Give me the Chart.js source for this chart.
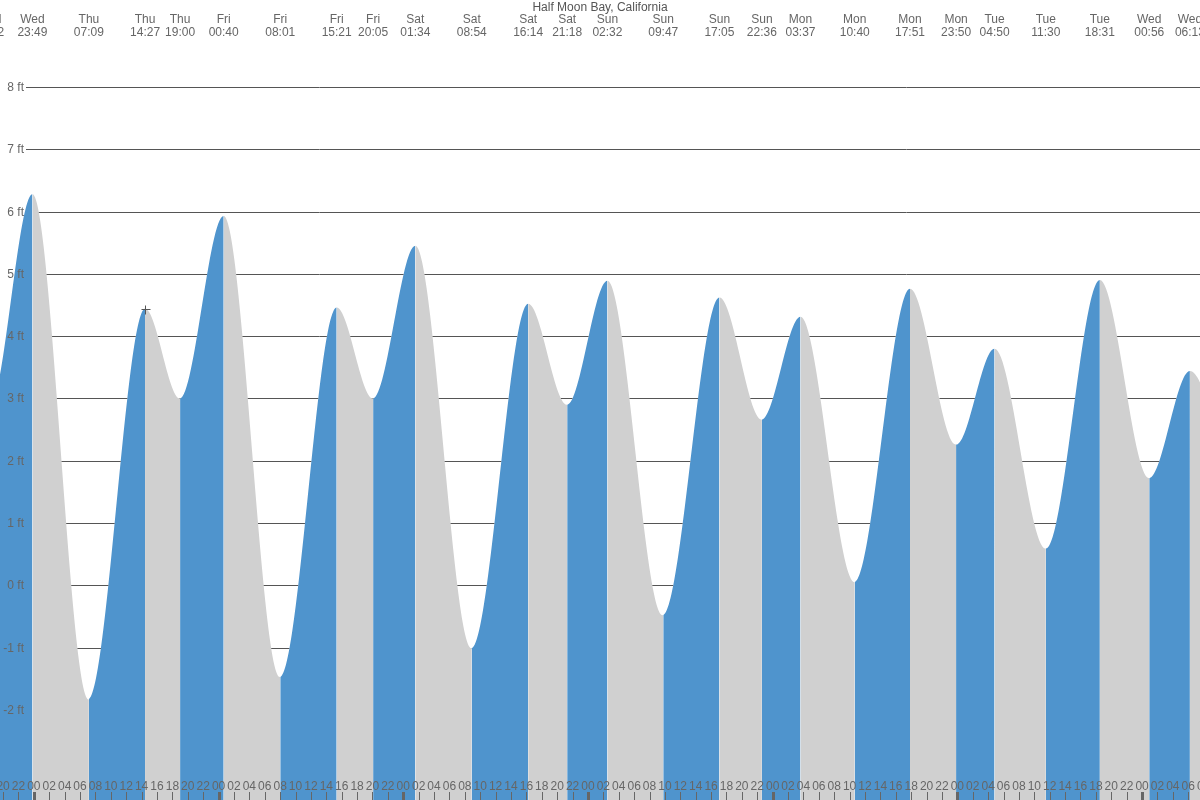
<!DOCTYPE html>
<html lang="en">
<head>
    <meta charset="UTF-8">
    <title>Half Moon Bay, California</title>
    <script src="https://cdn.jsdelivr.net/npm/chart.js"></script>
    <style>
        body {
            margin: 0;
            background: #fff;
        }
        canvas {
            display: block;
        }
    </style>
</head>
<body>
    <canvas id="tideChart" width="1200" height="800"></canvas>

    <script>
        const chartTitle = 'Half Moon Bay, California';

        // high / low tides, in order (first two and last one fall outside the view)
        const tideDays = ['Wed', 'Wed', 'Wed', 'Thu', 'Thu', 'Thu', 'Fri', 'Fri', 'Fri', 'Fri', 'Sat', 'Sat', 'Sat', 'Sat',
            'Sun', 'Sun', 'Sun', 'Sun', 'Mon', 'Mon', 'Mon', 'Mon', 'Tue', 'Tue', 'Tue', 'Wed', 'Wed', 'Wed'];
        const tideTimes = ['11:40', '18:12', '23:49', '07:09', '14:27', '19:00', '00:40', '08:01', '15:21', '20:05', '01:34', '08:54', '16:14', '21:18',
            '02:32', '09:47', '17:05', '22:36', '03:37', '10:40', '17:51', '23:50', '04:50', '11:30', '18:31', '00:56', '06:13', '12:40'];
        const tideHeights = [4.1, 2.85, 6.28, -1.83, 4.44, 3.0, 5.93, -1.47, 4.46, 3.0, 5.45, -1.01, 4.52, 2.9,
            4.89, -0.48, 4.62, 2.66, 4.31, 0.05, 4.76, 2.26, 3.8, 0.59, 4.9, 1.72, 3.44, 1.0];

        const yTicks = [-2, -1, 0, 1, 2, 3, 4, 5, 6, 7, 8];

        const RISE = '#4f94cd';
        const FALL = '#d0d0d0';
        const TEXT = '#666';
        const FONT = '12px "Liberation Sans", Arial, sans-serif';

        // hours counted from Thursday 00:00
        let dayIdx = -1;
        const tideHours = tideTimes.map((t, i) => {
            if (i > 0 && tideDays[i] !== tideDays[i - 1]) dayIdx++;
            const [h, m] = t.split(':').map(Number);
            return dayIdx * 24 + h + m / 60;
        });
        const points = tideHours.map((x, i) => ({ x: x, y: tideHeights[i] }));

        const overlay = {
            id: 'overlay',
            afterDatasetsDraw(chart) {
                const ctx = chart.ctx;
                const x = chart.scales.x;
                const y = chart.scales.y;
                const line = chart.getDatasetMeta(0).dataset;
                const pts = line.points;

                // grid only above the tide curve: clip to the region over the line
                ctx.save();
                ctx.beginPath();
                ctx.moveTo(pts[0].x, 0);
                line.segments.forEach(seg => line.pathSegment(ctx, seg, { move: false }));
                ctx.lineTo(pts[pts.length - 1].x, 0);
                ctx.closePath();
                ctx.clip();
                ctx.strokeStyle = '#555';
                ctx.lineWidth = 1;
                yTicks.forEach(v => {
                    const py = Math.round(y.getPixelForValue(v)) + 0.5;
                    ctx.beginPath();
                    ctx.moveTo(26, py);
                    ctx.lineTo(chart.width, py);
                    ctx.stroke();
                });
                ctx.restore();

                ctx.save();
                ctx.font = FONT;
                ctx.fillStyle = TEXT;

                // y labels
                ctx.textAlign = 'right';
                ctx.textBaseline = 'alphabetic';
                yTicks.forEach(v => {
                    ctx.fillText(v + ' ft', 24, y.getPixelForValue(v) + 4);
                });

                // hour ticks along the bottom
                ctx.textAlign = 'center';
                for (let h = Math.ceil(x.min / 2) * 2; h <= x.max + 2; h += 2) {
                    const px = x.getPixelForValue(h);
                    const hh = ((h % 24) + 24) % 24;
                    const isDay = hh === 0;
                    ctx.fillRect(Math.round(px) - (isDay ? 1 : 0), 792, isDay ? 3 : 1, 8);
                    ctx.fillText(String(hh).padStart(2, '0'), px, 790);
                }

                // day and time of each high / low
                tideDays.forEach((d, i) => {
                    const px = x.getPixelForValue(tideHours[i]);
                    ctx.fillText(d, px, 23);
                    ctx.fillText(tideTimes[i], px, 36);
                });

                // title
                ctx.fillStyle = '#555';
                ctx.fillText(chartTitle, chart.width / 2, 11);

                // current-time cross
                const cx = Math.round(x.getPixelForValue(tideHours[4])) + 0.5;
                const cy = Math.round(y.getPixelForValue(tideHeights[4])) + 0.5;
                ctx.strokeStyle = '#555';
                ctx.beginPath();
                ctx.moveTo(cx - 4, cy);
                ctx.lineTo(cx + 5, cy);
                ctx.moveTo(cx, cy - 4);
                ctx.lineTo(cx, cy + 5);
                ctx.stroke();
                ctx.restore();
            }
        };

        new Chart(document.getElementById('tideChart'), {
            type: 'line',
            data: {
                datasets: [{
                    data: points,
                    fill: 'start',
                    backgroundColor: FALL,
                    borderWidth: 0,
                    pointRadius: 0,
                    cubicInterpolationMode: 'monotone',
                    segment: {
                        backgroundColor: c => c.p1.parsed.y > c.p0.parsed.y ? RISE : FALL
                    }
                }]
            },
            options: {
                responsive: false,
                animation: false,
                layout: { padding: 0 },
                scales: {
                    x: { type: 'linear', min: -4.4, max: 151.53, display: false },
                    y: { min: -3.445, max: 9.396, display: false }
                },
                plugins: {
                    legend: { display: false },
                    tooltip: { enabled: false }
                }
            },
            plugins: [overlay]
        });
    </script>
</body>
</html>
